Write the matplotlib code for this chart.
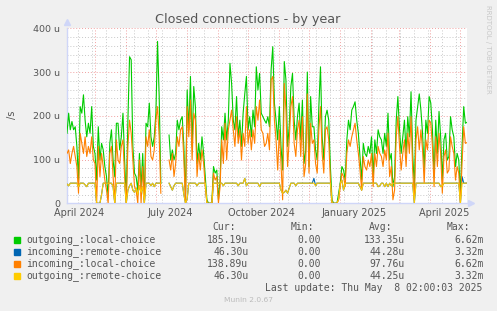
import numpy as np
import pandas as pd
import matplotlib
matplotlib.use("Agg")
import matplotlib.pyplot as plt

nan = float("nan")

# time span of the munin year graph (400 days)
start = pd.Timestamp("2024-04-03 02:00")
end = pd.Timestamp("2025-05-08 02:00")

# values in micro-connections per second
outgoing_local = [
    160, 206, 168, 187, 168, 175, 130, 53, 221, 206,
    248, 190, 152, 183, 160, 221, 130, 114, 53, 175,
    99, 137, 122, 84, 61, 15, 137, 168, 99, 61,
    183, 183, 122, 152, 206, 99, 8, 190, 335, 328,
    130, 69, 61, 30, 114, 38, 114, 8, 183, 175,
    229, 152, 130, 152, 206, 370, 244, 46,
    nan, nan, nan, nan,
    156, 99, 122, 99, 114, 190, 168, 190, 198, 130,
    8, 259, 168, 290, 130, 267, 221, 91, 137, 99,
    152, 114, 61, 8, 0, 0, 0, 84, 69, 76,
    8, 53, 175, 145, 206, 145, 190, 320, 274, 190,
    168, 244, 152, 190, 130,
    206, 250, 290, 168, 198, 152, 213, 175, 312, 259,
    297, 206, 198, 190, 183, 198, 175, 305, 358, 229,
    190, 145, 221, 130, 76, 324, 282, 130, 175, 267,
    297, 190, 145, 198, 229, 145, 236, 91, 120, 300,
    84, 244, 175, 175, 122, 99, 221, 312, 152, 99,
    198, 213, 190, 84, 8, 0, 0, 0, 23, 46,
    84, 76, 53, 145, 190, 168, 213, 221, 232, 190,
    160, 107, 53, 137, 114, 107, 130, 114, 152, 61,
    145, 114, 168, 152, 145, 114, 160, 130, 206, 99,
    114, 38, 61, 190, 244, 168, 114, 152, 190, 114,
    198, 152, 255, 114, 38, 190, 221, 250, 213, 160,
    76, 190, 160, 244, 229, 168, 61, 190, 114, 210,
    152, 53, 145, 160, 99, 107, 198, 168, 152, 84,
    114, 99, 23, 130, 221, 183, 185.19,
]

incoming_local = [
    114, 122, 91, 114, 130, 107, 84, 23, 160, 137,
    114, 152, 107, 130, 114, 152, 99, 91, 0, 130,
    61, 114, 84, 53, 30, 0, 114, 130, 61, 0,
    145, 99, 91, 130, 145, 61, 0, 130, 190, 160,
    99, 38, 30, 0, 99, 0, 84, 0, 152, 130,
    168, 107, 99, 122, 190, 221, 152, 23,
    nan, nan, nan, nan,
    99, 76, 114, 61, 91, 152, 130, 168, 175, 99,
    0, 221, 152, 236, 99, 206, 190, 61, 114, 76,
    122, 91, 38, 0, 0, 0, 0, 69, 53, 61,
    0, 38, 145, 91, 183, 99, 168, 190, 213, 168,
    130, 198, 137, 168, 99,
    160, 130, 221, 137, 168, 122, 168, 137, 221, 190,
    236, 168, 160, 130, 137, 160, 122, 282, 290, 190,
    145, 76, 168, 91, 8, 274, 213, 84, 145, 221,
    244, 137, 107, 168, 190, 107, 198, 61, 90, 250,
    69, 183, 137, 145, 91, 69, 168, 221, 114, 69,
    168, 175, 145, 53, 0, 0, 0, 0, 8, 38,
    69, 61, 38, 114, 145, 130, 152, 168, 183, 145,
    114, 76, 30, 107, 84, 76, 99, 84, 114, 38,
    114, 84, 130, 114, 107, 84, 122, 99, 160, 61,
    84, 8, 30, 152, 198, 130, 76, 114, 145, 84,
    160, 114, 198, 76, 8, 145, 175, 122, 168, 122,
    46, 145, 122, 190, 183, 130, 38, 152, 84, 160,
    114, 23, 107, 122, 69, 76, 152, 130, 114, 53,
    84, 69, 0, 91, 175, 137, 138.89,
]

outgoing_remote = [
    44, 40, 46, 46, 46, 46, 46, 38, 46, 46,
    46, 42, 38, 46, 46, 46, 46, 46, 0, 0,
    0, 20, 46, 46, 46, 46, 46, 46, 38, 0,
    46, 46, 46, 46, 46, 46, 0, 30, 40, 46,
    30, 25, 35, 20, 40, 25, 38, 0, 46, 46,
    46, 40, 46, 38, 46, 46, 46, 46,
    nan, nan, nan, nan,
    46, 38, 30, 40, 46, 46, 46, 46, 46, 20,
    0, 10, 46, 46, 46, 46, 46, 40, 46, 46,
    46, 46, 46, 0, 0, 0, 0, 46, 46, 46,
    46, 46, 46, 40, 46, 46, 46, 46, 46, 46,
    46, 46, 40, 46, 46,
    46, 57, 40, 46, 46, 46, 46, 46, 46, 46,
    38, 46, 46, 46, 46, 46, 46, 46, 46, 46,
    46, 46, 46, 30, 23, 25, 30, 23, 35, 46,
    46, 46, 40, 46, 46, 46, 46, 46, 46, 46,
    46, 46, 46, 46, 40, 46, 46, 46, 46, 46,
    46, 46, 46, 46, 0, 0, 0, 0, 10, 46,
    53, 30, 46, 46, 46, 46, 46, 46, 46, 46,
    46, 38, 30, 46, 46, 46, 46, 46, 46, 46,
    46, 46, 38, 40, 46, 46, 38, 46, 38, 46,
    40, 46, 46, 46, 46, 46, 46, 46, 46, 46,
    46, 46, 46, 46, 0, 46, 46, 46, 46, 46,
    46, 46, 46, 46, 46, 46, 46, 46, 46, 46,
    38, 40, 46, 46, 46, 46, 46, 46, 46, 46,
    46, 46, 0, 46, 46, 46, 46.3,
]

incoming_remote = [
    44, 40, 46, 46, 46, 46, 46, 38, 46, 46,
    46, 42, 38, 46, 46, 46, 46, 46, 0, 0,
    0, 20, 46, 46, 46, 46, 46, 46, 38, 0,
    46, 46, 46, 46, 46, 46, 0, 30, 40, 46,
    30, 25, 35, 20, 40, 25, 38, 0, 46, 46,
    46, 40, 46, 38, 46, 46, 46, 46,
    nan, nan, nan, nan,
    46, 38, 30, 40, 46, 46, 46, 46, 46, 20,
    0, 10, 46, 46, 46, 46, 46, 40, 46, 46,
    46, 46, 46, 0, 0, 0, 0, 46, 46, 46,
    46, 46, 46, 40, 46, 46, 46, 46, 46, 46,
    46, 46, 40, 46, 46,
    46, 57, 40, 46, 46, 46, 46, 46, 46, 46,
    38, 46, 46, 46, 46, 46, 46, 46, 46, 46,
    46, 46, 46, 30, 23, 25, 30, 23, 35, 46,
    46, 46, 40, 46, 46, 46, 46, 46, 46, 46,
    46, 46, 46, 57, 40, 46, 46, 46, 46, 46,
    46, 46, 46, 46, 0, 0, 0, 0, 10, 46,
    53, 30, 46, 46, 46, 46, 46, 46, 46, 46,
    46, 38, 30, 46, 46, 46, 46, 46, 46, 46,
    46, 46, 38, 40, 46, 46, 38, 46, 38, 46,
    40, 46, 46, 46, 46, 46, 46, 46, 46, 46,
    46, 46, 46, 46, 0, 46, 46, 46, 46, 46,
    46, 46, 46, 46, 46, 46, 46, 46, 46, 46,
    38, 40, 46, 46, 46, 46, 46, 46, 46, 46,
    46, 46, 0, 61, 46, 46, 46.3,
]

series_names = ["outgoing_:local-choice", "incoming_:remote-choice",
                "incoming_:local-choice", "outgoing_:remote-choice"]
series_colors = ["#00CC00", "#0066B3", "#FF8000", "#FFCC00"]
cur_vals = ["185.19u", "46.30u", "138.89u", "46.30u"]
min_vals = ["0.00", "0.00", "0.00", "0.00"]
avg_vals = ["133.35u", "44.28u", "97.76u", "44.25u"]
max_vals = ["6.62m", "3.32m", "6.62m", "3.32m"]

y_ticks = [0, 100, 200, 300, 400]
y_tick_labels = ["0", "100 u", "200 u", "300 u", "400 u"]
x_labels = ["April 2024", "July 2024", "October 2024", "January 2025", "April 2025"]
x_label_dates = pd.to_datetime(["2024-04-15", "2024-07-15", "2024-10-15",
                                "2025-01-15", "2025-04-15"])

W, H = 497, 311
txt = "#555555"
fig = plt.figure(figsize=(W / 100, H / 100), dpi=100, facecolor="#F0F0F0")
ax = fig.add_axes([67 / W, 1 - 203.3 / H, 400 / W, 175 / H])
ax.set_facecolor("white")

t = pd.date_range(start, end, periods=len(outgoing_local))
all_series = [outgoing_local, incoming_remote, incoming_local, outgoing_remote]
for vals, col in zip(all_series, series_colors):
    ax.plot(t, np.array(vals, dtype=float), color=col, lw=0.8, zorder=3)

ax.set_xlim(start, end)
ax.set_ylim(0, 400)

# grid: red month lines, grey every two weeks; red every 100u, grey every 20u
ax.set_xticks(pd.date_range("2024-05-01", "2025-05-01", freq="MS"))
ax.set_xticks(pd.date_range("2024-04-14", end, freq="14D"), minor=True)
ax.set_yticks(y_ticks)
ax.set_yticks(np.arange(20, 400, 20), minor=True)
ax.grid(which="minor", color="#C8C8C8", lw=0.7, linestyle=(0, (1, 2)), zorder=1)
ax.grid(which="major", color="#F0A0A0", lw=0.7, linestyle=(0, (1, 2)), zorder=2)
ax.set_axisbelow(True)

ax.set_xticklabels([])
ax.set_yticklabels(y_tick_labels)
ax.tick_params(which="both", length=0)
ax.tick_params(axis="y", labelsize=6.8, labelcolor=txt, pad=5)

for s in ["top", "right"]:
    ax.spines[s].set_visible(False)
for s in ["left", "bottom"]:
    ax.spines[s].set_color("#CFD6F8")
    ax.spines[s].set_linewidth(1)

ax.plot([0], [1.035], marker="^", color="#CFD6F8", ms=4, transform=ax.transAxes, clip_on=False)
ax.plot([1.01], [0], marker=">", color="#CFD6F8", ms=4, transform=ax.transAxes, clip_on=False)

for d, lab in zip(x_label_dates, x_labels):
    ax.text(d, -0.055, lab, transform=ax.get_xaxis_transform(), ha="center", va="center",
            fontsize=7, color=txt)

fig.text(248 / W, 1 - 19.5 / H, "Closed connections - by year", ha="center", va="center",
         fontsize=9.2, color=txt)
fig.text(12 / W, 1 - 115 / H, "/s", rotation=90, ha="center", va="center", fontsize=7, color=txt)
fig.text(488 / W, 1 - 5 / H, "RRDTOOL / TOBI OETIKER", rotation=270, ha="center", va="top",
         fontsize=5, color="#C8C8C8")

mono = "DejaVu Sans Mono"
fs = 7
header_y = 227.5
for x, lab in zip([235.7, 314, 392, 470], ["Cur:", "Min:", "Avg:", "Max:"]):
    fig.text(x / W, 1 - header_y / H, lab, ha="right", va="center", family=mono, fontsize=fs, color=txt)

row_y = [240, 252, 264, 276]
for i, name in enumerate(series_names):
    y = 1 - row_y[i] / H
    fig.patches.append(plt.Rectangle((13.5 / W, y - 3.3 / H), 6.5 / W, 6.5 / H,
                                     transform=fig.transFigure, color=series_colors[i]))
    fig.text(26.5 / W, y, name, ha="left", va="center", family=mono, fontsize=fs, color=txt)
    for x, v in zip([248.3, 320.7, 405, 483.3], [cur_vals[i], min_vals[i], avg_vals[i], max_vals[i]]):
        fig.text(x / W, y, v, ha="right", va="center", family=mono, fontsize=fs, color=txt)

fig.text(482.5 / W, 1 - 288 / H, "Last update: Thu May  8 02:00:03 2025", ha="right", va="center",
         family=mono, fontsize=fs, color=txt)
fig.text(248 / W, 1 - 300.5 / H, "Munin 2.0.67", ha="center", va="center", fontsize=5.4, color="#BBBBBB")

fig.savefig("out.png", dpi=100, facecolor=fig.get_facecolor())
